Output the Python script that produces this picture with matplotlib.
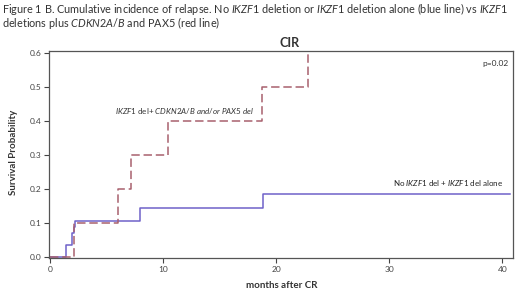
import matplotlib

matplotlib.use("Agg")
import matplotlib.pyplot as plt

plt.rcParams["font.family"] = ["Lato", "DejaVu Sans"]
plt.rcParams["mathtext.fontset"] = "custom"
plt.rcParams["mathtext.rm"] = "Lato"
plt.rcParams["mathtext.it"] = "Lato:italic"
plt.rcParams["mathtext.bf"] = "Lato:bold"

# step data
blue_times = [0, 1.4, 1.9, 2.1, 2.2, 7.9, 18.8]
blue_cif = [0, 0.036, 0.071, 0.089, 0.107, 0.143, 0.186]
blue_end = 40.7
red_times = [0, 2.1, 6.0, 7.1, 10.4, 18.7, 22.8]
red_cif = [0, 0.1, 0.2, 0.3, 0.4, 0.5, 0.6]
red_end = 23.0
x_ticks = [0, 10, 20, 30, 40]
y_ticks = [0.0, 0.1, 0.2, 0.3, 0.4, 0.5, 0.6]

blue = "#6f62c9"
red = "#a8606e"

fig = plt.figure(figsize=(5.2, 2.98), dpi=100)
ax = fig.add_axes([49 / 520, 1 - 258 / 298, 464 / 520, 207 / 298])

ax.step(blue_times + [blue_end], blue_cif + [blue_cif[-1]], where="post", color=blue, lw=1.1)
ax.step(red_times + [red_end], red_cif + [red_cif[-1]], where="post", color=red, lw=1.1,
        dashes=(5.5, 2.5))

ax.set_xlim(-0.13, 40.93)
ax.set_ylim(-0.003, 0.606)
ax.set_xticks(x_ticks, [str(t) for t in x_ticks])
ax.set_yticks(y_ticks, [f"{t:.1f}" for t in y_ticks])
ax.tick_params(direction="out", length=3.5, width=0.8, labelsize=6, labelcolor="#444444",
               color="#444444", pad=2)
for sp in ax.spines.values():
    sp.set_color("#555555")
    sp.set_linewidth(0.9)

ax.text(5.7, 0.43, r"$\mathit{IKZF1}$ del+ $\mathit{CDKN2A/B\ and/or\ PAX5\ del}$",
        fontsize=5.8, color="#333333", va="center", ha="left")
ax.text(40.1, 0.218, r"No $\mathit{IKZF1}$ del + $\mathit{IKZF1}$ del alone",
        fontsize=5.8, color="#222222", va="center", ha="right")
ax.text(40.5, 0.57, "p=0.02", fontsize=6, color="#333333", va="center", ha="right")

fig.text(290 / 520, 1 - 43 / 298, "CIR", fontsize=9, fontweight="bold", ha="center",
         va="center", color="#333333")
fig.text(14 / 520, 1 - 152 / 298, "Survival Probability", rotation=90, fontsize=7,
         fontweight="bold", ha="center", va="center", color="#333333")
fig.text(282 / 520, 1 - 285 / 298, "months after CR", fontsize=7, fontweight="bold",
         ha="center", va="center", color="#333333")

caption = (r"Figure 1 B. Cumulative incidence of relapse. No $\mathit{IKZF1}$ deletion or "
           r"$\mathit{IKZF1}$ deletion alone (blue line) vs $\mathit{IKZF1}$" "\n"
           r"deletions plus $\mathit{CDKN2A/B}$ and PAX5 (red line)")
fig.text(2 / 520, 1 - 1 / 298, caption, fontsize=7.8, ha="left", va="top",
         color="#333333", linespacing=0.8)

fig.savefig("out.png", dpi=100)
plt.close(fig)
